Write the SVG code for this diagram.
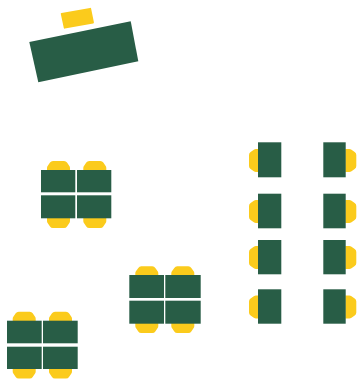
<svg xmlns="http://www.w3.org/2000/svg" width="362" height="379" viewBox="0 0 362 379">
<style>
.d{fill:#285d46}
.c{fill:#fbcb1c}
</style>
<defs>
<path id="up" class="c" d="M0 11V7Q0 5.800 .8 4.800L3 1.600Q4 0 6 0H17Q19 0 20 1.600L22.200 4.800Q23 5.800 23 7V11Z"/>
<path id="dn" class="c" d="M0 0V4Q0 5.200 .8 6.200L3 9.400Q4 11 6 11H17Q19 11 20 9.400L22.200 6.200Q23 5.200 23 4V0Z"/>
<path id="lf" class="c" d="M11 0H7Q5.800 0 4.800 .8L1.600 3Q0 4 0 6V17Q0 19 1.600 20L4.800 22.200Q5.800 23 7 23H11Z"/>
<path id="rt" class="c" d="M0 0H4Q5.200 0 6.200 .8L9.400 3Q11 4 11 6V17Q11 19 9.400 20L6.200 22.200Q5.200 23 4 23H0Z"/>
</defs>
<rect width="362" height="379" fill="#fff"/>
<g id="teacher">
<path class="c" d="M61.500 13.100L90 7.900Q90.900 7.700 91.100 8.600L93.900 22.300Q94.100 23.200 93.200 23.400L64.900 28.600Q64 28.800 63.800 27.900L60.800 14Q60.600 13.300 61.500 13.100Z"/>
<polygon class="d" points="29.300,42 130.700,21.300 138.300,61.300 38.300,82.300"/>
</g>
<g id="cluster-1">
<use href="#up" x="47" y="161"/><use href="#up" x="83.300" y="161"/>
<use href="#dn" x="47" y="217"/><use href="#dn" x="83.300" y="217"/>
<rect class="d" x="41" y="170" width="34.300" height="22.300"/><rect class="d" x="77" y="170" width="34.300" height="22.300"/>
<rect class="d" x="41" y="195.300" width="34.300" height="23"/><rect class="d" x="77" y="195.300" width="34.300" height="23"/>
</g>
<g id="cluster-2">
<use href="#up" x="135.300" y="266.300"/><use href="#up" x="171.300" y="266.300"/>
<use href="#dn" x="135.300" y="322"/><use href="#dn" x="171.300" y="322"/>
<rect class="d" x="129.300" y="275" width="34.700" height="23"/><rect class="d" x="165.300" y="275" width="35.400" height="23"/>
<rect class="d" x="129.300" y="300.700" width="34.700" height="23"/><rect class="d" x="165.300" y="300.700" width="35.400" height="23"/>
</g>
<g id="cluster-3">
<use href="#up" x="12.700" y="311.700"/><use href="#up" x="49" y="311.700"/>
<use href="#dn" x="12.700" y="367.500"/><use href="#dn" x="49" y="367.500"/>
<rect class="d" x="7" y="320.700" width="34.700" height="22.600"/><rect class="d" x="43" y="320.700" width="34.700" height="22.600"/>
<rect class="d" x="7" y="346.700" width="34.700" height="22.300"/><rect class="d" x="43" y="346.700" width="34.700" height="22.300"/>
</g>
<g id="desk-left-1"><use href="#lf" x="249" y="149"/><rect class="d" x="258" y="142.300" width="23.300" height="35"/></g>
<g id="desk-left-2"><use href="#lf" x="249" y="200"/><rect class="d" x="258" y="193.700" width="23.300" height="34.600"/></g>
<g id="desk-left-3"><use href="#lf" x="249" y="246"/><rect class="d" x="258" y="240" width="23.300" height="34.300"/></g>
<g id="desk-left-4"><use href="#lf" x="249" y="295.500"/><rect class="d" x="258" y="289.300" width="23.300" height="34.400"/></g>
<g id="desk-right-1"><use href="#rt" x="345.300" y="149"/><rect class="d" x="323.300" y="142.300" width="22.400" height="35"/></g>
<g id="desk-right-2"><use href="#rt" x="345.300" y="200"/><rect class="d" x="323.300" y="193.700" width="22.400" height="34.600"/></g>
<g id="desk-right-3"><use href="#rt" x="345.300" y="246"/><rect class="d" x="323.300" y="240" width="22.400" height="34.300"/></g>
<g id="desk-right-4"><use href="#rt" x="345.300" y="295.500"/><rect class="d" x="323.300" y="289.300" width="22.400" height="34.400"/></g>
</svg>
